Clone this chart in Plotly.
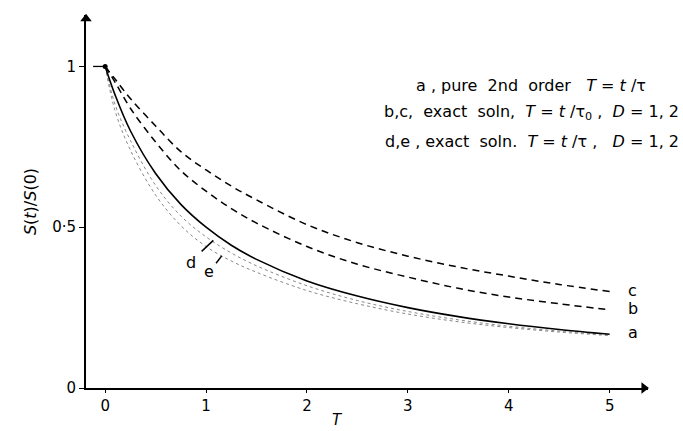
import plotly.graph_objects as go

# Values
T_vals = [0, 0.1, 0.25, 0.5, 0.75, 1, 1.25, 1.5, 2, 2.5, 3, 3.5, 4, 4.5, 5]
curve_a = [1, 0.91, 0.80, 0.667, 0.571, 0.50, 0.444, 0.40, 0.333, 0.286, 0.25, 0.222, 0.20, 0.182, 0.167]
curve_b = [1, 0.95, 0.87, 0.765, 0.676, 0.612, 0.558, 0.513, 0.440, 0.385, 0.345, 0.310, 0.283, 0.262, 0.243]
curve_c = [1, 0.96, 0.90, 0.815, 0.735, 0.678, 0.628, 0.585, 0.508, 0.452, 0.410, 0.376, 0.348, 0.322, 0.300]
curve_d = [1, 0.88, 0.77, 0.63, 0.535, 0.47, 0.42, 0.38, 0.318, 0.272, 0.238, 0.212, 0.192, 0.177, 0.165]
curve_e = [1, 0.86, 0.74, 0.60, 0.505, 0.44, 0.395, 0.36, 0.303, 0.262, 0.230, 0.206, 0.188, 0.174, 0.163]

start_T = [-0.12, 0]
start_S = [1, 1]

x_range = [-0.19, 5.38]
y_range = [0, 1.16]

x_ticks = [0, 1, 2, 3, 4, 5]
x_ticklabels = ["0", "1", "2", "3", "4", "5"]
y_ticks = [0, 0.5, 1]
y_ticklabels = ["0", "0·5", "1"]

end_labels = ["c", "b", "a"]
end_label_T = [5.16, 5.16, 5.16]
end_label_S = [0.303, 0.246, 0.172]

S = "\u00a0"
legend_lines = [
    f"a{S},{S}pure{S}{S}2nd{S}{S}order{S}{S}{S}<i>T</i>{S}={S}<i>t</i>{S}/τ",
    f"b,c,{S}{S}exact{S}{S}soln,{S}{S}<i>T</i>{S}={S}<i>t</i>{S}/τ<sub>0</sub>{S},{S}{S}<i>D</i>{S}={S}1,{S}2",
    f"d,e{S},{S}exact{S}{S}soln.{S}{S}<i>T</i>{S}={S}<i>t</i>{S}/τ{S},{S}{S}{S}<i>D</i>{S}={S}1,{S}2",
]
legend_px = [1.0, 1.058, 1.058]
legend_py = [0.81, 0.738, 0.662]

FONT = "DejaVu Sans"

fig = go.Figure()

fig.add_trace(go.Scatter(x=T_vals, y=curve_e, mode="lines", line=dict(color="#888", width=1, dash="dot", shape="spline")))
fig.add_trace(go.Scatter(x=T_vals, y=curve_d, mode="lines", line=dict(color="#888", width=1, dash="dot", shape="spline")))
fig.add_trace(go.Scatter(x=T_vals, y=curve_c, mode="lines", line=dict(color="black", width=1.5, dash="7px,5px", shape="spline")))
fig.add_trace(go.Scatter(x=T_vals, y=curve_b, mode="lines", line=dict(color="black", width=1.5, dash="7px,5px", shape="spline")))
fig.add_trace(go.Scatter(x=T_vals, y=curve_a, mode="lines", line=dict(color="black", width=1.6, shape="spline")))
fig.add_trace(go.Scatter(x=start_T, y=start_S, mode="lines", line=dict(color="black", width=1.3)))
fig.add_trace(go.Scatter(x=[start_T[-1]], y=[start_S[-1]], mode="markers", marker=dict(color="black", size=5)))
# axis arrowheads at the ends of the axes
fig.add_trace(go.Scatter(x=[x_range[1] - 0.04], y=[y_range[0]], mode="markers", cliponaxis=False,
                         marker=dict(symbol="triangle-right", color="black", size=10)))
fig.add_trace(go.Scatter(x=[x_range[0]], y=[y_range[1] - 0.012], mode="markers", cliponaxis=False,
                         marker=dict(symbol="triangle-up", color="black", size=10)))

annotations = []
for lab, tx, sy in zip(end_labels, end_label_T, end_label_S):
    annotations.append(dict(x=tx, y=sy, text=lab, showarrow=False, xanchor="left", yanchor="middle",
                            font=dict(family=FONT, size=16, color="black")))
for txt, px, py in zip(legend_lines, legend_px, legend_py):
    annotations.append(dict(x=px, y=py, xref="paper", yref="paper", text=txt, showarrow=False,
                            xanchor="right", yanchor="middle",
                            font=dict(family=FONT, size=16, color="black")))
# d, e labels
annotations.append(dict(x=0.85, y=0.39, text="d", showarrow=False, font=dict(family=FONT, size=16, color="black")))
annotations.append(dict(x=1.03, y=0.362, text="e", showarrow=False, font=dict(family=FONT, size=16, color="black")))
# x axis title
annotations.append(dict(x=0.448, y=-0.086, xref="paper", yref="paper", text="<i>T</i>", showarrow=False,
                        xanchor="center", yanchor="middle",
                        font=dict(family=FONT, size=15, color="black")))

shapes = [
    dict(type="line", x0=0.956, y0=0.425, x1=1.072, y1=0.459, line=dict(color="black", width=1.5)),
    dict(type="line", x0=1.099, y0=0.388, x1=1.155, y1=0.411, line=dict(color="black", width=1.5)),
]

fig.update_layout(
    width=683, height=431,
    margin=dict(l=86, r=35, t=15, b=43),
    paper_bgcolor="white", plot_bgcolor="white",
    showlegend=False,
    annotations=annotations,
    shapes=shapes,
    font=dict(family=FONT, size=15, color="black"),
    xaxis=dict(range=x_range, showgrid=False, zeroline=False, showline=True, linecolor="black", linewidth=2,
               tickvals=x_ticks, ticktext=x_ticklabels, ticks="outside", ticklen=3, tickcolor="black",
               tickfont=dict(family=FONT, size=15)),
    yaxis=dict(range=y_range, showgrid=False, zeroline=False, showline=True, linecolor="black", linewidth=2,
               tickvals=y_ticks, ticktext=y_ticklabels, ticks="outside", ticklen=5, tickcolor="black",
               tickfont=dict(family=FONT, size=15),
               title=dict(text="<i>S</i>(<i>t</i>)/<i>S</i>(0)", font=dict(family=FONT, size=16), standoff=12)),
)

fig.write_html("out.html")
